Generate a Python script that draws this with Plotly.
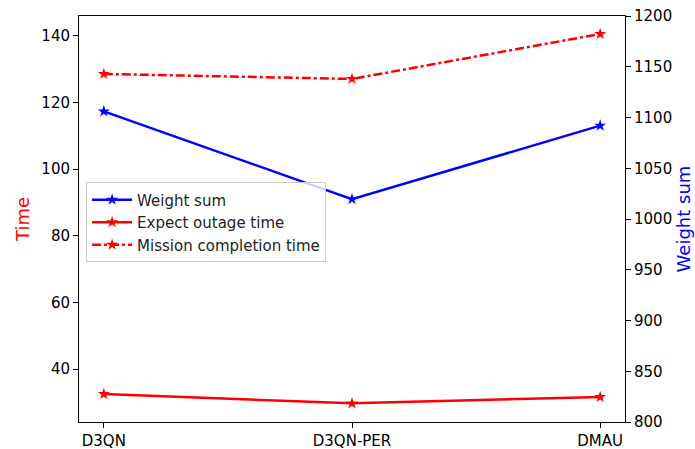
import plotly.graph_objects as go

categories = ["D3QN", "D3QN-PER", "DMAU"]
weight_sum = [1106, 1019.5, 1092]
outage_time = [32.5, 29.7, 31.6]
mission_time = [128.6, 127.1, 140.6]

left_ticks = [40, 60, 80, 100, 120, 140]
right_ticks = [800, 850, 900, 950, 1000, 1050, 1100, 1150, 1200]

fig = go.Figure()
fig.add_trace(go.Scatter(x=[0, 1, 2], y=weight_sum, name="Weight sum", yaxis="y2",
                         mode="lines+markers", line=dict(color="blue", width=2.5),
                         marker=dict(symbol="star", size=9, color="blue")))
fig.add_trace(go.Scatter(x=[0, 1, 2], y=outage_time, name="Expect outage time",
                         mode="lines+markers", line=dict(color="red", width=2.5),
                         marker=dict(symbol="star", size=9, color="red")))
fig.add_trace(go.Scatter(x=[0, 1, 2], y=mission_time, name="Mission completion time",
                         mode="lines+markers", line=dict(color="red", width=2.5, dash="dashdot"),
                         marker=dict(symbol="star", size=9, color="red")))

font = dict(family="DejaVu Sans", size=15, color="black")
fig.update_layout(
    width=695, height=449,
    margin=dict(l=79, r=70, t=16, b=27),
    plot_bgcolor="white", paper_bgcolor="white",
    font=font,
    showlegend=True,
    legend=dict(x=0.013, y=0.59, xanchor="left", yanchor="top",
                bgcolor="rgba(255,255,255,0.8)", bordercolor="#cccccc", borderwidth=1,
                font=dict(family="DejaVu Sans", size=15, color="#222"),
                tracegroupgap=0, itemwidth=40),
    xaxis=dict(range=[-0.1, 2.1], tickmode="array", tickvals=[0, 1, 2], ticktext=categories,
               showline=True, linecolor="black", linewidth=1, mirror=True, automargin=False,
               ticks="outside", ticklen=5, tickcolor="black", showgrid=False, zeroline=False),
    yaxis=dict(range=[24.1, 146], tickmode="array", tickvals=left_ticks, automargin=False,
               showline=True, linecolor="black", linewidth=1, mirror=True,
               ticks="outside", ticklen=5, tickcolor="black", showgrid=False, zeroline=False,
               title=dict(text="Time", font=dict(family="DejaVu Sans", size=18, color="red"), standoff=7)),
    yaxis2=dict(range=[800, 1200], tickmode="array", tickvals=right_ticks, overlaying="y", side="right",
                showline=True, linecolor="black", linewidth=1, automargin=False,
                ticks="outside", ticklen=5, tickcolor="black", showgrid=False, zeroline=False,
                title=dict(text="Weight sum", font=dict(family="DejaVu Sans", size=18, color="blue"), standoff=6)),
)

fig.write_html("out.html")
